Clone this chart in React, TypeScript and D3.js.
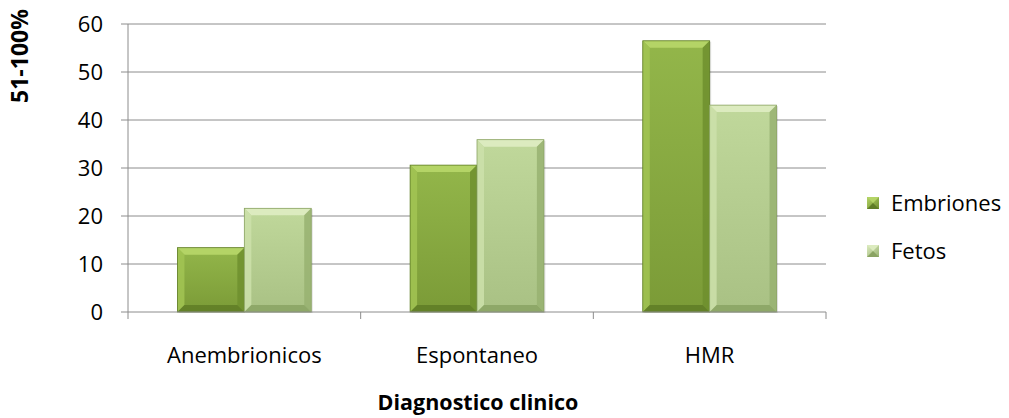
import React from "react";
import * as d3 from "d3";

const categories = ["Anembrionicos", "Espontaneo", "HMR"];
const seriesNames = ["Embriones", "Fetos"];
const embriones = [13.4, 30.6, 56.5];
const fetos = [21.6, 35.9, 43.1];
const yTicks = [0, 10, 20, 30, 40, 50, 60];

const W = 1009;
const H = 418;
const margin = { left: 128, right: 183, top: 24, bottom: 106 };

const palettes = [
  { top: "#b4d466", main: "#93b64a", end: "#7b9b37", dark: "#6f8f2e", side: "#a2c453", bottom: "#5f7d26" },
  { top: "#dcebbf", main: "#c0d89b", end: "#a9c184", dark: "#98b271", side: "#cde1aa", bottom: "#8aa363" },
];

function BevelBar({ x, y, w, h, p, id }: { x: number; y: number; w: number; h: number; p: typeof palettes[0]; id: string }) {
  const b = Math.min(7, h / 2, w / 2);
  return (
    <g>
      <rect x={x + 1.5} y={y + 1} width={w} height={h} fill="#000" opacity={0.12} />
      <rect x={x} y={y} width={w} height={h} fill={`url(#${id})`} />
      {/* top bevel */}
      <polygon points={`${x},${y} ${x + w},${y} ${x + w - b},${y + b} ${x + b},${y + b}`} fill={p.top} />
      {/* left bevel */}
      <polygon points={`${x},${y} ${x + b},${y + b} ${x + b},${y + h - b} ${x},${y + h}`} fill={p.side} opacity={0.85} />
      {/* right bevel */}
      <polygon points={`${x + w},${y} ${x + w},${y + h} ${x + w - b},${y + h - b} ${x + w - b},${y + b}`} fill={p.dark} opacity={0.85} />
      {/* bottom bevel */}
      <polygon points={`${x},${y + h} ${x + b},${y + h - b} ${x + w - b},${y + h - b} ${x + w},${y + h}`} fill={p.bottom} opacity={0.85} />
      <rect x={x} y={y} width={w} height={h} fill="none" stroke={p.bottom} strokeWidth={0.8} />
    </g>
  );
}

export default function App() {
  const x0 = d3.scaleBand<string>().domain(categories).range([margin.left, W - margin.right]).paddingInner(0).paddingOuter(0);
  const innerW = x0.bandwidth() * 0.575;
  const x1 = d3.scaleBand<string>().domain(seriesNames).range([0, innerW]);
  const y = d3.scaleLinear().domain([0, 60]).range([H - margin.bottom, margin.top]);
  const values = [embriones, fetos];
  const font = "'Open Sans', 'Liberation Sans', sans-serif";
  const xr = W - margin.right;
  const y0 = y(0);

  return (
    <svg width={W} height={H} style={{ position: "absolute", left: 0, top: 0, background: "#fff" }} fontFamily={font}>
      <defs>
        {palettes.map((p, i) => (
          <linearGradient key={i} id={`g${i}`} x1="0" y1="0" x2="0" y2="1">
            <stop offset="0" stopColor={p.main} />
            <stop offset="1" stopColor={p.end} />
          </linearGradient>
        ))}
        {palettes.map((p, i) => (
          <linearGradient key={`l${i}`} id={`lg${i}`} x1="0" y1="0" x2="1" y2="1">
            <stop offset="0" stopColor={p.top} />
            <stop offset="1" stopColor={p.dark} />
          </linearGradient>
        ))}
      </defs>

      {/* gridlines */}
      {yTicks.slice(1).map((t) => (
        <line key={t} x1={margin.left} x2={xr} y1={y(t)} y2={y(t)} stroke="#8c8c8c" strokeWidth={1} />
      ))}

      {/* y axis */}
      <line x1={margin.left} x2={margin.left} y1={y(60)} y2={y0} stroke="#8c8c8c" strokeWidth={1} />
      {yTicks.map((t) => (
        <g key={t}>
          <line x1={margin.left - 7} x2={margin.left} y1={y(t)} y2={y(t)} stroke="#8c8c8c" />
          <text x={margin.left - 25} y={y(t)} dy="0.36em" textAnchor="end" fontSize={22} fill="#000">{t}</text>
        </g>
      ))}

      {/* bars */}
      {categories.map((c, ci) => {
        const gx = (x0(c) as number) + (x0.bandwidth() - innerW) / 2;
        return seriesNames.map((s, si) => {
          const v = values[si][ci];
          const bx = gx + (x1(s) as number);
          return (
            <BevelBar key={c + s} id={`g${si}`} x={bx} y={y(v)} w={x1.bandwidth()} h={y0 - y(v)} p={palettes[si]} />
          );
        });
      })}

      {/* x axis */}
      <line x1={margin.left} x2={xr} y1={y0} y2={y0} stroke="#8c8c8c" />
      {[...categories.map((c) => x0(c) as number), xr].map((tx, i) => (
        <line key={i} x1={tx} x2={tx} y1={y0} y2={y0 + 7} stroke="#8c8c8c" />
      ))}
      {categories.map((c) => (
        <text key={c} x={(x0(c) as number) + x0.bandwidth() / 2} y={363} textAnchor="middle" fontSize={22} fill="#000">{c}</text>
      ))}

      {/* axis titles */}
      <text x={478} y={410} textAnchor="middle" fontSize={21.5} fontWeight="bold" fill="#000">Diagnostico clinico</text>
      <text transform={`translate(28,56) rotate(-90)`} textAnchor="middle" fontSize={23} fontWeight="bold" fill="#000">51-100%</text>

      {/* legend */}
      {seriesNames.map((s, i) => (
        <g key={s} transform={`translate(867,${203 + i * 48})`}>
          <rect x={0} y={-6} width={12} height={12} fill={`url(#lg${i})`} />
          <polygon points="0,-6 12,-6 6,0" fill={palettes[i].top} />
          <polygon points="0,6 12,6 6,0" fill={palettes[i].bottom} />
          <text x={24} y={0} dy="0.36em" fontSize={22} fill="#000">{s}</text>
        </g>
      ))}
    </svg>
  );
}
